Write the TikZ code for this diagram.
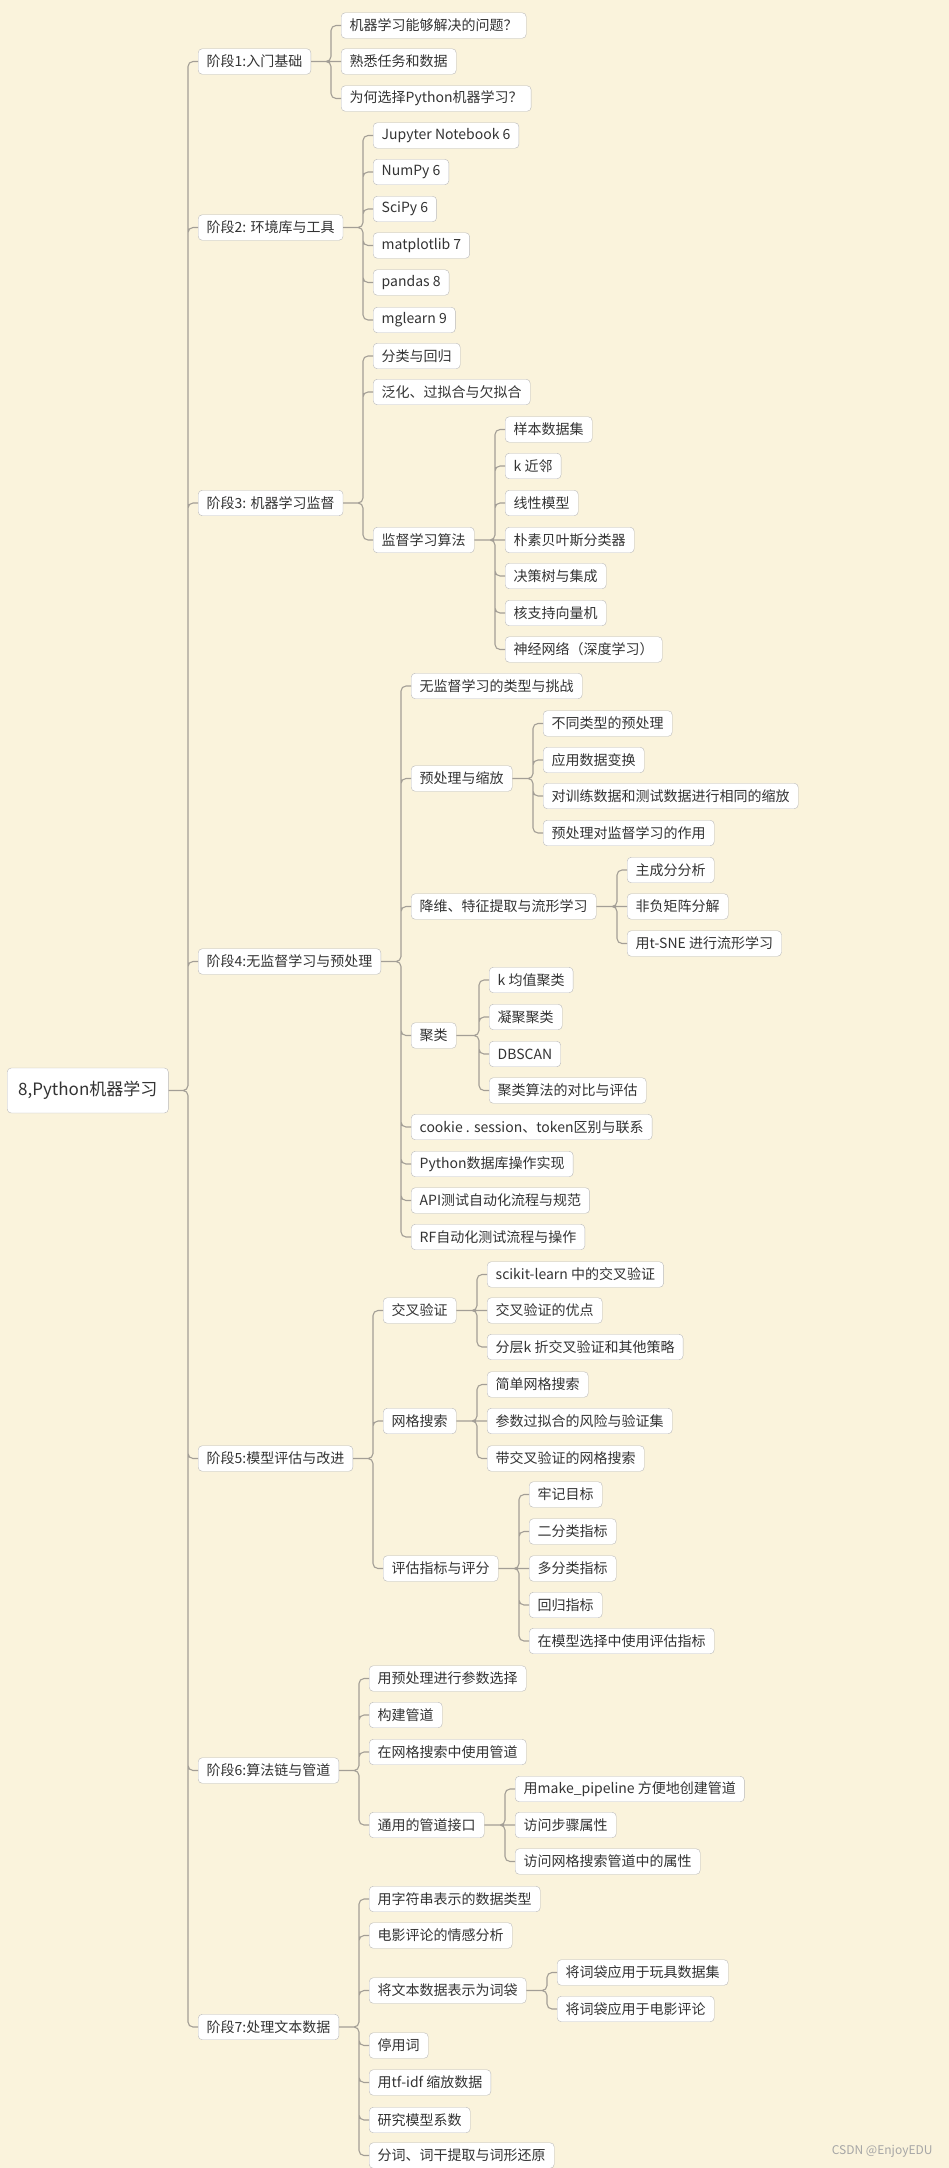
\documentclass[tikz,border=0pt]{standalone}
\usepackage{fontspec}
\setmainfont{Noto Sans CJK SC}
\usetikzlibrary{calc}
\definecolor{paper}{HTML}{FAF3DC}
\definecolor{wire}{HTML}{A39E96}
\definecolor{frame}{HTML}{B9B9B9}
\definecolor{ink}{HTML}{333333}

\begin{document}
\begin{tikzpicture}[x=1pt, y=-1pt,
  box/.style={draw=frame, fill=white, rounded corners=4pt, anchor=west, inner xsep=8.5pt, inner ysep=0pt, minimum height=25.5pt, text=ink, font=\fontsize{14}{14}\selectfont},
  rootbox/.style={box, minimum height=45pt, inner xsep=11pt, font=\fontsize{17}{17}\selectfont},
  link/.style={draw=wire, line width=1.1pt, rounded corners=5pt}]
  %background
  \fill[paper] (0,0) rectangle (949,2168);
  \useasboundingbox (0,0) rectangle (949,2168);
  % Nodes
  \node[rootbox](R) at (7,1090.5) {8,Python机器学习};
  % stage 1
  \node[box](S1) at (198,61.5) {阶段1:入门基础};
  \node[box](S1a) at (341,25.5) {机器学习能够解决的问题？};
  \node[box](S1b) at (341,61.5) {熟悉任务和数据};
  \node[box](S1c) at (341,98.5) {为何选择Python机器学习？};
  % stage 2
  \node[box](S2) at (198,227.5) {阶段2: 环境库与工具};
  \node[box](S2a) at (373,135.5) {Jupyter Notebook 6};
  \node[box](S2b) at (373,172) {NumPy 6};
  \node[box](S2c) at (373,209) {SciPy 6};
  \node[box](S2d) at (373,245.5) {matplotlib 7};
  \node[box](S2e) at (373,282.5) {pandas 8};
  \node[box](S2f) at (373,320) {mglearn 9};
  % stage 3
  \node[box](S3) at (198,503) {阶段3: 机器学习监督};
  \node[box](S3a) at (373,356) {分类与回归};
  \node[box](S3b) at (373,392) {泛化、过拟合与欠拟合};
  \node[box](S3c) at (373,540) {监督学习算法};
  \node[box](S3c1) at (505,429.5) {样本数据集};
  \node[box](S3c2) at (505,466) {k 近邻};
  \node[box](S3c3) at (505,503) {线性模型};
  \node[box](S3c4) at (505,540) {朴素贝叶斯分类器};
  \node[box](S3c5) at (505,576) {决策树与集成};
  \node[box](S3c6) at (505,613) {核支持向量机};
  \node[box](S3c7) at (505,649.5) {神经网络（深度学习）};
  % stage 4
  \node[box](S4) at (198,961.5) {阶段4:无监督学习与预处理};
  \node[box](S4a) at (411,686) {无监督学习的类型与挑战};
  \node[box](S4b) at (411,778.5) {预处理与缩放};
  \node[box](S4b1) at (543,723.5) {不同类型的预处理};
  \node[box](S4b2) at (543,760) {应用数据变换};
  \node[box](S4b3) at (543,796) {对训练数据和测试数据进行相同的缩放};
  \node[box](S4b4) at (543,833) {预处理对监督学习的作用};
  \node[box](S4c) at (411,906.5) {降维、特征提取与流形学习};
  \node[box](S4c1) at (627,870) {主成分分析};
  \node[box](S4c2) at (627,906.5) {非负矩阵分解};
  \node[box](S4c3) at (627,943.5) {用t-SNE 进行流形学习};
  \node[box](S4d) at (411,1035.5) {聚类};
  \node[box](S4d1) at (489,980) {k 均值聚类};
  \node[box](S4d2) at (489,1017) {凝聚聚类};
  \node[box](S4d3) at (489,1054) {DBSCAN};
  \node[box](S4d4) at (489,1090.5) {聚类算法的对比与评估};
  \node[box](S4e) at (411,1127) {cookie . session、token区别与联系};
  \node[box](S4f) at (411,1164) {Python数据库操作实现};
  \node[box](S4g) at (411,1200.5) {API测试自动化流程与规范};
  \node[box](S4h) at (411,1237) {RF自动化测试流程与操作};
  % stage 5
  \node[box](S5) at (198,1458.5) {阶段5:模型评估与改进};
  \node[box](S5a) at (383,1310.5) {交叉验证};
  \node[box](S5a1) at (487,1274.5) {scikit-learn 中的交叉验证};
  \node[box](S5a2) at (487,1310.5) {交叉验证的优点};
  \node[box](S5a3) at (487,1347) {分层k 折交叉验证和其他策略};
  \node[box](S5b) at (383,1421) {网格搜索};
  \node[box](S5b1) at (487,1384.5) {简单网格搜索};
  \node[box](S5b2) at (487,1421) {参数过拟合的风险与验证集};
  \node[box](S5b3) at (487,1458.5) {带交叉验证的网格搜索};
  \node[box](S5c) at (383,1568.5) {评估指标与评分};
  \node[box](S5c1) at (529,1494.5) {牢记目标};
  \node[box](S5c2) at (529,1531.5) {二分类指标};
  \node[box](S5c3) at (529,1568.5) {多分类指标};
  \node[box](S5c4) at (529,1605) {回归指标};
  \node[box](S5c5) at (529,1641) {在模型选择中使用评估指标};
  % stage 6
  \node[box](S6) at (198,1770.5) {阶段6:算法链与管道};
  \node[box](S6a) at (369,1678.5) {用预处理进行参数选择};
  \node[box](S6b) at (369,1715) {构建管道};
  \node[box](S6c) at (369,1752) {在网格搜索中使用管道};
  \node[box](S6d) at (369,1825) {通用的管道接口};
  \node[box](S6d1) at (515,1789) {用make\_pipeline 方便地创建管道};
  \node[box](S6d2) at (515,1825) {访问步骤属性};
  \node[box](S6d3) at (515,1861.5) {访问网格搜索管道中的属性};
  % stage 7
  \node[box](S7) at (198,2027) {阶段7:处理文本数据};
  \node[box](S7a) at (369,1899) {用字符串表示的数据类型};
  \node[box](S7b) at (369,1935.5) {电影评论的情感分析};
  \node[box](S7c) at (369,1990.5) {将文本数据表示为词袋};
  \node[box](S7c1) at (557,1972.5) {将词袋应用于玩具数据集};
  \node[box](S7c2) at (557,2009) {将词袋应用于电影评论};
  \node[box](S7d) at (369,2045.5) {停用词};
  \node[box](S7e) at (369,2082.5) {用tf-idf 缩放数据};
  \node[box](S7f) at (369,2120) {研究模型系数};
  \node[box](S7g) at (369,2155.5) {分词、词干提取与词形还原};
  \node[anchor=east, text=black!35, font=\fontsize{12}{12}\selectfont](WM) at (936,2151) {CSDN @EnjoyEDU};
  % Edges
  \draw[link] (R.east) -| ([xshift=-10pt]S1.west) -- (S1.west)
    (R.east) -| ([xshift=-10pt]S2.west) -- (S2.west)
    (R.east) -| ([xshift=-10pt]S3.west) -- (S3.west)
    (R.east) -| ([xshift=-10pt]S4.west) -- (S4.west)
    (R.east) -| ([xshift=-10pt]S5.west) -- (S5.west)
    (R.east) -| ([xshift=-10pt]S6.west) -- (S6.west)
    (R.east) -| ([xshift=-10pt]S7.west) -- (S7.west);
  \draw[link] (S1.east) -| ([xshift=-10pt]S1a.west) -- (S1a.west)
    (S1.east) -- (S1b.west)
    (S1.east) -| ([xshift=-10pt]S1c.west) -- (S1c.west);
  \draw[link] (S2.east) -| ([xshift=-10pt]S2a.west) -- (S2a.west)
    (S2.east) -| ([xshift=-10pt]S2b.west) -- (S2b.west)
    (S2.east) -| ([xshift=-10pt]S2c.west) -- (S2c.west)
    (S2.east) -| ([xshift=-10pt]S2d.west) -- (S2d.west)
    (S2.east) -| ([xshift=-10pt]S2e.west) -- (S2e.west)
    (S2.east) -| ([xshift=-10pt]S2f.west) -- (S2f.west);
  \draw[link] (S3.east) -| ([xshift=-10pt]S3a.west) -- (S3a.west)
    (S3.east) -| ([xshift=-10pt]S3b.west) -- (S3b.west)
    (S3.east) -| ([xshift=-10pt]S3c.west) -- (S3c.west);
  \draw[link] (S3c.east) -| ([xshift=-10pt]S3c1.west) -- (S3c1.west)
    (S3c.east) -| ([xshift=-10pt]S3c2.west) -- (S3c2.west)
    (S3c.east) -| ([xshift=-10pt]S3c3.west) -- (S3c3.west)
    (S3c.east) -- (S3c4.west)
    (S3c.east) -| ([xshift=-10pt]S3c5.west) -- (S3c5.west)
    (S3c.east) -| ([xshift=-10pt]S3c6.west) -- (S3c6.west)
    (S3c.east) -| ([xshift=-10pt]S3c7.west) -- (S3c7.west);
  \draw[link] (S4.east) -| ([xshift=-10pt]S4a.west) -- (S4a.west)
    (S4.east) -| ([xshift=-10pt]S4b.west) -- (S4b.west)
    (S4.east) -| ([xshift=-10pt]S4c.west) -- (S4c.west)
    (S4.east) -| ([xshift=-10pt]S4d.west) -- (S4d.west)
    (S4.east) -| ([xshift=-10pt]S4e.west) -- (S4e.west)
    (S4.east) -| ([xshift=-10pt]S4f.west) -- (S4f.west)
    (S4.east) -| ([xshift=-10pt]S4g.west) -- (S4g.west)
    (S4.east) -| ([xshift=-10pt]S4h.west) -- (S4h.west);
  \draw[link] (S4b.east) -| ([xshift=-10pt]S4b1.west) -- (S4b1.west)
    (S4b.east) -| ([xshift=-10pt]S4b2.west) -- (S4b2.west)
    (S4b.east) -| ([xshift=-10pt]S4b3.west) -- (S4b3.west)
    (S4b.east) -| ([xshift=-10pt]S4b4.west) -- (S4b4.west);
  \draw[link] (S4c.east) -| ([xshift=-10pt]S4c1.west) -- (S4c1.west)
    (S4c.east) -- (S4c2.west)
    (S4c.east) -| ([xshift=-10pt]S4c3.west) -- (S4c3.west);
  \draw[link] (S4d.east) -| ([xshift=-10pt]S4d1.west) -- (S4d1.west)
    (S4d.east) -| ([xshift=-10pt]S4d2.west) -- (S4d2.west)
    (S4d.east) -| ([xshift=-10pt]S4d3.west) -- (S4d3.west)
    (S4d.east) -| ([xshift=-10pt]S4d4.west) -- (S4d4.west);
  \draw[link] (S5.east) -| ([xshift=-10pt]S5a.west) -- (S5a.west)
    (S5.east) -| ([xshift=-10pt]S5b.west) -- (S5b.west)
    (S5.east) -| ([xshift=-10pt]S5c.west) -- (S5c.west);
  \draw[link] (S5a.east) -| ([xshift=-10pt]S5a1.west) -- (S5a1.west)
    (S5a.east) -- (S5a2.west)
    (S5a.east) -| ([xshift=-10pt]S5a3.west) -- (S5a3.west);
  \draw[link] (S5b.east) -| ([xshift=-10pt]S5b1.west) -- (S5b1.west)
    (S5b.east) -- (S5b2.west)
    (S5b.east) -| ([xshift=-10pt]S5b3.west) -- (S5b3.west);
  \draw[link] (S5c.east) -| ([xshift=-10pt]S5c1.west) -- (S5c1.west)
    (S5c.east) -| ([xshift=-10pt]S5c2.west) -- (S5c2.west)
    (S5c.east) -- (S5c3.west)
    (S5c.east) -| ([xshift=-10pt]S5c4.west) -- (S5c4.west)
    (S5c.east) -| ([xshift=-10pt]S5c5.west) -- (S5c5.west);
  \draw[link] (S6.east) -| ([xshift=-10pt]S6a.west) -- (S6a.west)
    (S6.east) -| ([xshift=-10pt]S6b.west) -- (S6b.west)
    (S6.east) -| ([xshift=-10pt]S6c.west) -- (S6c.west)
    (S6.east) -| ([xshift=-10pt]S6d.west) -- (S6d.west);
  \draw[link] (S6d.east) -| ([xshift=-10pt]S6d1.west) -- (S6d1.west)
    (S6d.east) -- (S6d2.west)
    (S6d.east) -| ([xshift=-10pt]S6d3.west) -- (S6d3.west);
  \draw[link] (S7.east) -| ([xshift=-10pt]S7a.west) -- (S7a.west)
    (S7.east) -| ([xshift=-10pt]S7b.west) -- (S7b.west)
    (S7.east) -| ([xshift=-10pt]S7c.west) -- (S7c.west)
    (S7.east) -| ([xshift=-10pt]S7d.west) -- (S7d.west)
    (S7.east) -| ([xshift=-10pt]S7e.west) -- (S7e.west)
    (S7.east) -| ([xshift=-10pt]S7f.west) -- (S7f.west)
    (S7.east) -| ([xshift=-10pt]S7g.west) -- (S7g.west);
  \draw[link] (S7c.east) -| ([xshift=-10pt]S7c1.west) -- (S7c1.west)
    (S7c.east) -| ([xshift=-10pt]S7c2.west) -- (S7c2.west);
\end{tikzpicture}
\end{document}
